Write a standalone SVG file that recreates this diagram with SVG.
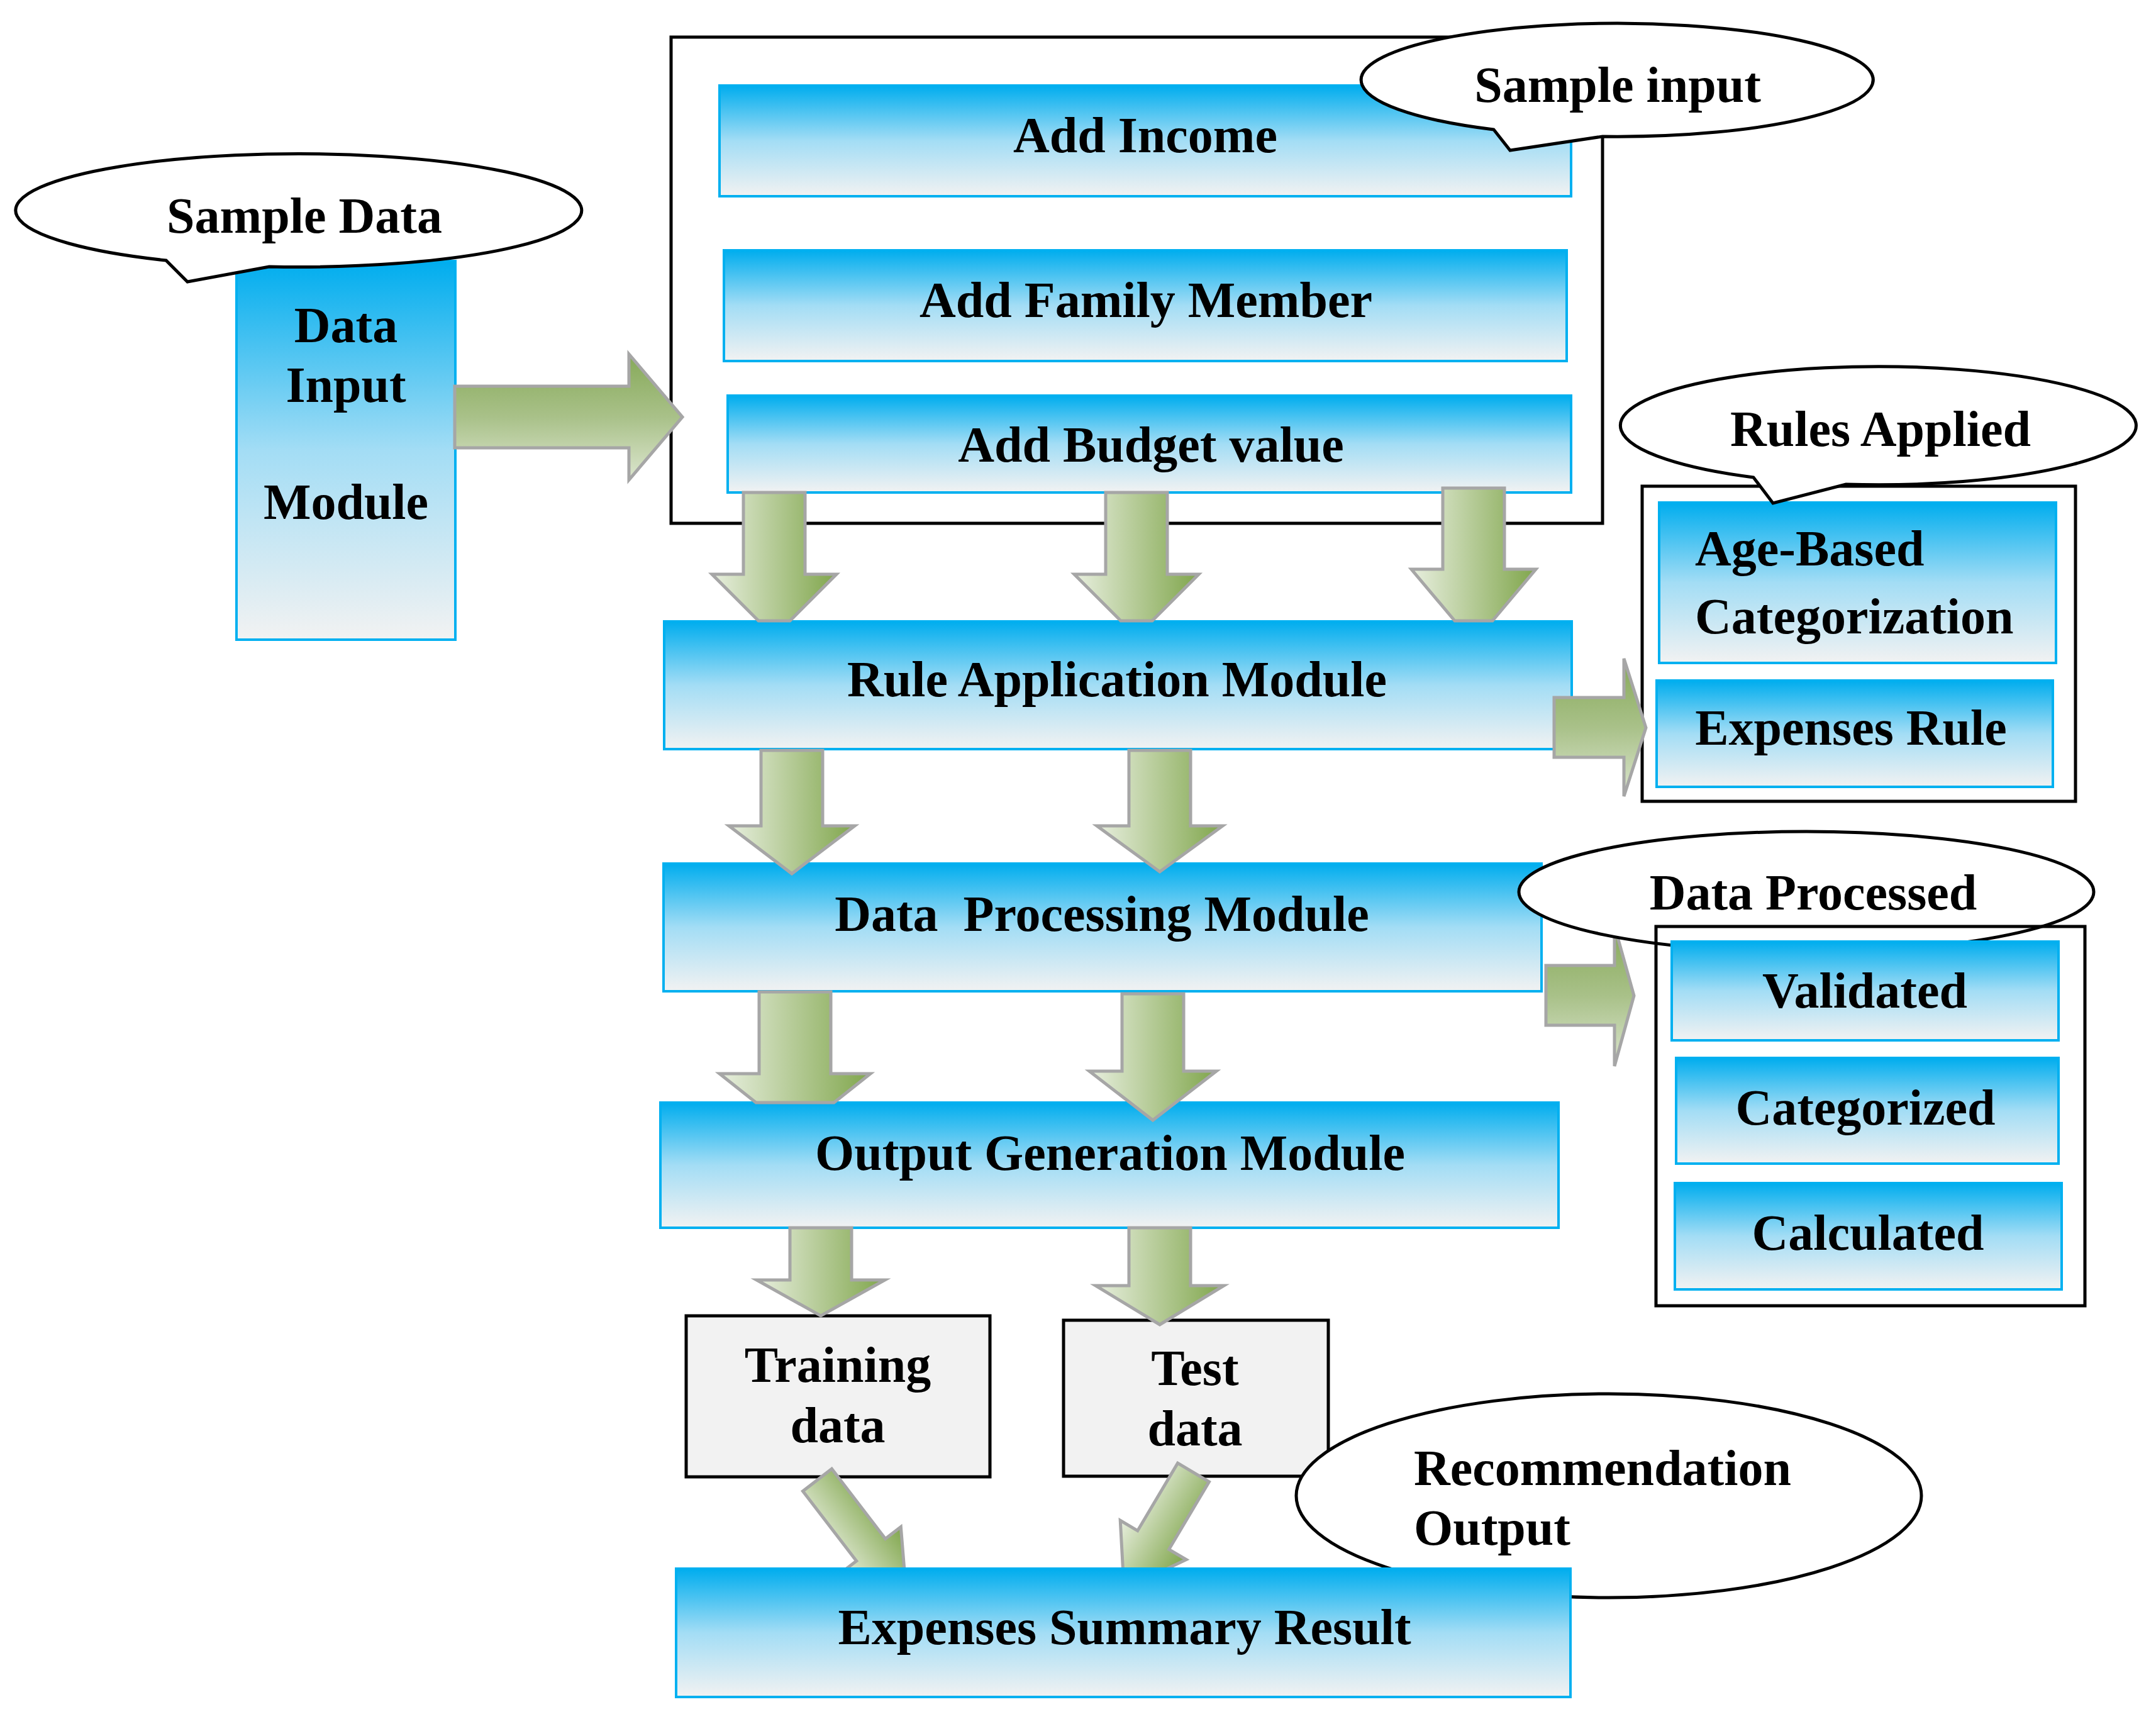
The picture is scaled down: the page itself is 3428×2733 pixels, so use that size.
<svg xmlns="http://www.w3.org/2000/svg" width="3428" height="2733" viewBox="0 0 3428 2733">
<defs>
<linearGradient id="blueGrad" x1="0" y1="0" x2="0" y2="1">
<stop offset="0" stop-color="#00ADEE"/>
<stop offset="0.5" stop-color="#A3DDF5"/>
<stop offset="1" stop-color="#F2F2F2"/>
</linearGradient>
<linearGradient id="greenV" x1="0" y1="0" x2="1" y2="0">
<stop offset="0" stop-color="#E8EFDF"/>
<stop offset="0.5" stop-color="#B4CA95"/>
<stop offset="1" stop-color="#80A64C"/>
</linearGradient>
<linearGradient id="greenH" x1="0" y1="0" x2="0" y2="1">
<stop offset="0" stop-color="#86A958"/>
<stop offset="0.5" stop-color="#A9C189"/>
<stop offset="1" stop-color="#DCE6CF"/>
</linearGradient>
</defs>
<style>
.blue { fill: url(#blueGrad); stroke: #00B0F0; stroke-width: 4; }
.frame { fill: none; stroke: #000; stroke-width: 5; }
.framew { fill: #fff; stroke: #000; stroke-width: 5; }
.gray { fill: #F2F2F2; stroke: #000; stroke-width: 5; }
.callout { fill: #fff; stroke: #000; stroke-width: 5; }
.av { fill: url(#greenV); stroke: #A6A6A6; stroke-width: 5; stroke-linejoin: miter; }
.ah { fill: url(#greenH); stroke: #A6A6A6; stroke-width: 5; stroke-linejoin: miter; }
.t { font-family: "Liberation Serif", "Times New Roman", serif; font-weight: bold; font-size: 80px; fill: #000; }
.m { text-anchor: middle; }
</style>
<rect width="3428" height="2733" fill="#fff"/>

<g id="container-sample-input">
<rect class="framew" x="1067" y="59" width="1481" height="773"/>
</g>
<g id="node-add-income">
<rect class="blue" x="1144" y="136" width="1354" height="176"/>
<text class="t m" x="1821" y="242">Add Income</text>
</g>
<g id="node-add-family-member">
<rect class="blue" x="1151" y="398" width="1340" height="176"/>
<text class="t m" x="1822" y="504">Add Family Member</text>
</g>
<g id="node-add-budget-value">
<rect class="blue" x="1157" y="629" width="1341" height="154"/>
<text class="t m" x="1830" y="734">Add Budget value</text>
</g>
<g id="callout-sample-input">
<path class="callout" d="M2548,217 A407,90 0 1 0 2375,206 L2401,239 Z"/>
<text class="t m" x="2572" y="162">Sample input</text>
</g>

<g id="node-data-input-module">
<rect class="blue" x="376" y="415" width="348" height="602"/>
<text class="t m" x="550" y="544">Data</text>
<text class="t m" x="550" y="639">Input</text>
<text class="t m" x="550" y="825">Module</text>
</g>
<g id="callout-sample-data">
<path class="callout" d="M428,424 A450,90 0 1 0 264,414 L298,448 Z"/>
<text class="t m" x="484" y="370">Sample Data</text>
</g>

<g id="node-rule-application">
<rect class="blue" x="1056" y="988" width="1443" height="203"/>
<text class="t m" x="1776" y="1107">Rule Application Module</text>
</g>
<g id="panel-rules-applied">
<rect class="framew" x="2611" y="773" width="689" height="501"/>
</g>
<g id="node-age-based">
<rect class="blue" x="2638" y="799" width="631" height="255"/>
<text class="t" x="2695" y="899">Age-Based</text>
<text class="t" x="2695" y="1007">Categorization</text>
</g>
<g id="node-expenses-rule">
<rect class="blue" x="2634" y="1082" width="630" height="169"/>
<text class="t m" x="2943" y="1184">Expenses Rule</text>
</g>
<g id="callout-rules-applied">
<path class="callout" d="M2935,770 A410,94 0 1 0 2788,759 L2819,800 Z"/>
<text class="t m" x="2990" y="709">Rules Applied</text>
</g>

<g id="node-data-processing">
<rect class="blue" x="1055" y="1373" width="1396" height="203"/>
<text class="t m" x="1752" y="1480" xml:space="preserve">Data  Processing Module</text>
</g>

<g id="node-output-generation">
<rect class="blue" x="1050" y="1753" width="1428" height="199"/>
<text class="t m" x="1765" y="1860">Output Generation Module</text>
</g>

<g id="node-training-data">
<rect class="gray" x="1091" y="2092" width="483" height="256"/>
<text class="t m" x="1332" y="2197">Training</text>
<text class="t m" x="1332" y="2293">data</text>
</g>
<g id="node-test-data">
<rect class="gray" x="1691" y="2099" width="421" height="248"/>
<text class="t m" x="1900" y="2202">Test</text>
<text class="t m" x="1900" y="2298">data</text>
</g>

<g id="connectors">
<polygon class="ah" points="723,614 1000,614 1000,563 1085,663 1000,763 1000,712 723,712"/>
<polygon class="av" points="1182,783 1280,783 1280,913 1330,913 1256,987 1206,987 1132,913 1182,913"/>
<polygon class="av" points="1758,783 1856,783 1856,913 1906,913 1832,987 1782,987 1708,913 1758,913"/>
<polygon class="av" points="2294,776 2392,776 2392,905 2442,905 2373,987 2313,987 2244,905 2294,905"/>
<polygon class="ah" points="2471,1109 2582,1109 2582,1047 2617,1157 2582,1266 2582,1204 2471,1204"/>
<polygon class="av" points="1210,1193 1308,1193 1308,1313 1359,1313 1259,1389 1159,1313 1210,1313"/>
<polygon class="av" points="1795,1193 1893,1193 1893,1313 1944,1313 1844,1386 1744,1313 1795,1313"/>
<polygon class="ah" points="2458,1535 2567,1535 2567,1472 2598,1583 2567,1695 2567,1630 2458,1630"/>
<polygon class="av" points="1207,1577 1321,1577 1321,1707 1384,1707 1326,1753 1202,1753 1144,1707 1207,1707"/>
<polygon class="av" points="1784,1580 1882,1580 1882,1703 1934,1703 1833,1781 1732,1703 1784,1703"/>
<polygon class="av" points="1256,1952 1354,1952 1354,2035 1407,2035 1305,2092 1203,2035 1256,2035"/>
<polygon class="av" points="1795,1952 1893,1952 1893,2044 1946,2044 1844,2106 1742,2044 1795,2044"/>
<polygon class="av" transform="translate(1299.5,2353) rotate(-37.5)" points="-29,0 29,0 29,140 60,140 0,233 -60,140 -29,140"/>
<polygon class="av" transform="translate(1897.5,2341) rotate(30.7)" points="-29,0 29,0 29,125 61,125 0,216 -61,125 -29,125"/>
</g>

<g id="callout-data-processed">
<ellipse class="callout" cx="2872" cy="1418" rx="457" ry="96"/>
<text class="t m" x="2883" y="1446">Data Processed</text>
</g>
<g id="panel-data-processed">
<rect class="frame" x="2633" y="1473" width="682" height="603"/>
</g>
<g id="node-validated">
<rect class="blue" x="2658" y="1497" width="615" height="157"/>
<text class="t m" x="2965" y="1602">Validated</text>
</g>
<g id="node-categorized">
<rect class="blue" x="2665" y="1682" width="608" height="168"/>
<text class="t m" x="2966" y="1788">Categorized</text>
</g>
<g id="node-calculated">
<rect class="blue" x="2663" y="1881" width="615" height="169"/>
<text class="t m" x="2970" y="1987">Calculated</text>
</g>

<g id="callout-recommendation-output">
<ellipse class="callout" cx="2558" cy="2378" rx="497" ry="162"/>
<text class="t" x="2248" y="2361">Recommendation</text>
<text class="t" x="2248" y="2456">Output</text>
</g>
<g id="node-expenses-summary">
<rect class="blue" x="1075" y="2494" width="1422" height="204"/>
<text class="t m" x="1788" y="2614">Expenses Summary Result</text>
</g>
</svg>
